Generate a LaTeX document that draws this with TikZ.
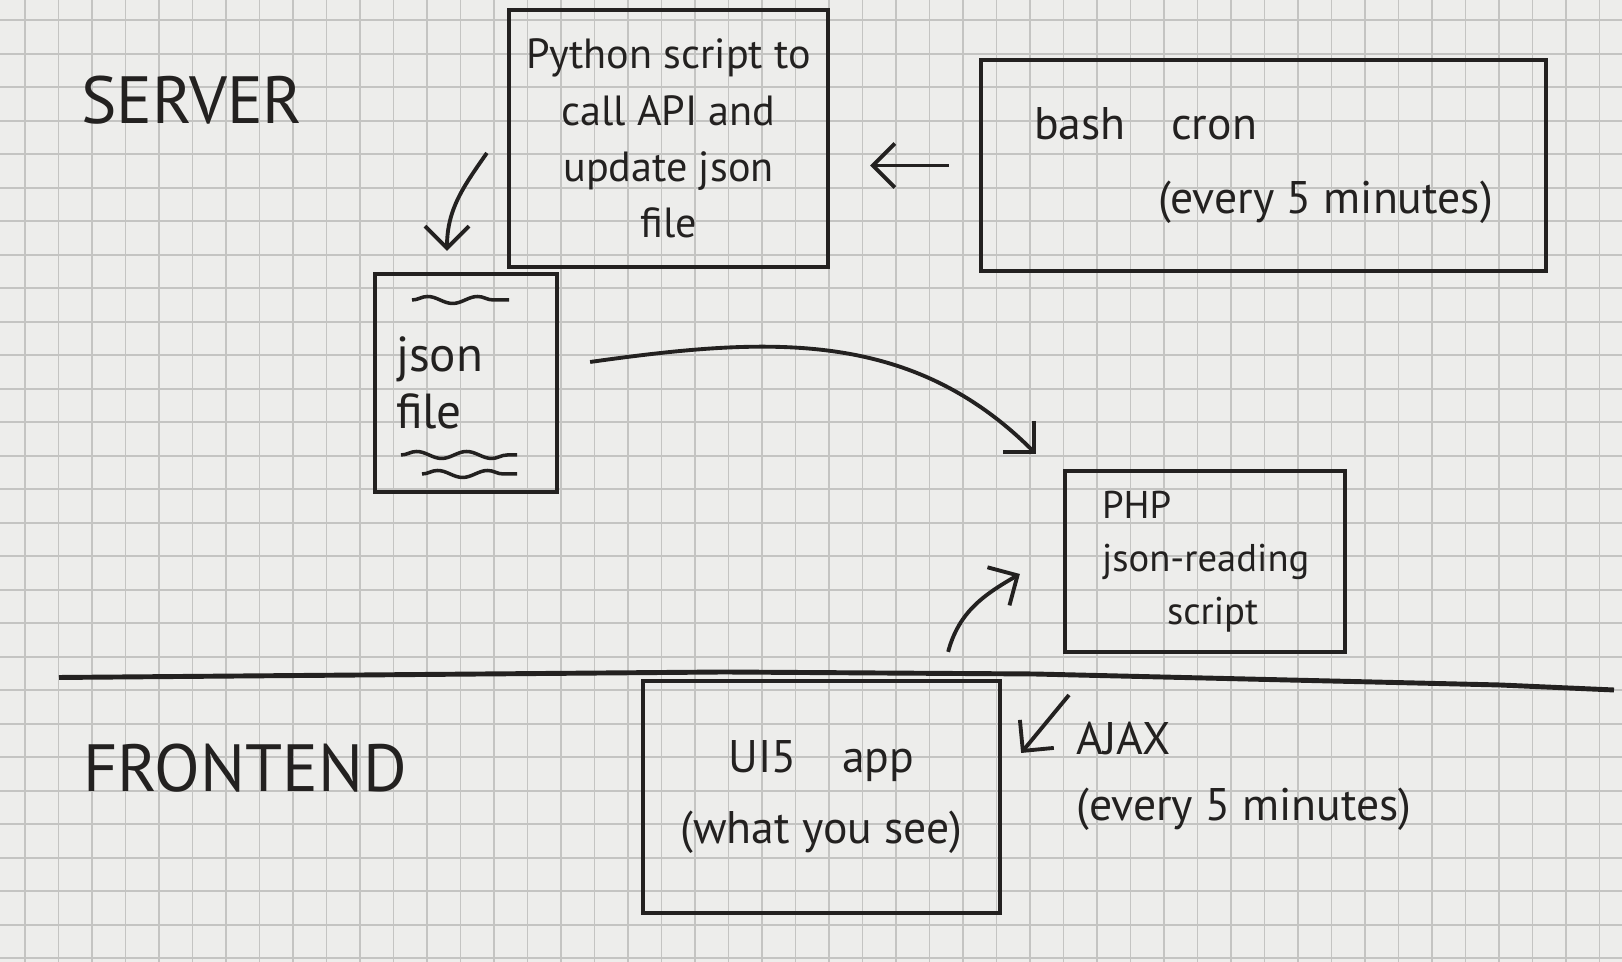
\documentclass[tikz,border=0pt]{standalone}
\usepackage{fontspec}
\setmainfont{PT Sans}
\usetikzlibrary{arrows.meta, decorations.pathmorphing}
\definecolor{ink}{HTML}{232120}
\definecolor{paper}{HTML}{EDEDEB}
\definecolor{gridgrey}{HTML}{C4C4C2}

\begin{document}
\begin{tikzpicture}[
		box/.style = {draw = ink, line width = 1.2pt, inner sep = 0pt, text = ink, align = center},
		hand/.style = {text = ink, inner sep = 0pt, align = left},
		arrow/.style = {draw = ink, line width = 1.1pt, -{Straight Barb[length = 2.2mm, width = 4.4mm]}},
		wavy/.style = {draw = ink, line width = 1pt, decorate, decoration = {snake, amplitude = 0.35mm, segment length = 5mm}}
	]
	% grid paper
	\fill[paper] (0, 0) rectangle (16.22, 9.62);
	\begin{scope}
		\clip (0, 0) rectangle (16.22, 9.62);
		\draw[gridgrey, line width = 0.5pt, step = 0.335cm, shift = {(0.25, 0.037)}] (-1, -1) grid (17, 10);
	\end{scope}

	% side titles
	\node[hand, font = \fontsize{19}{19}\selectfont] (server) at (1.92, 8.62) {SERVER};
	\node[hand, font = \fontsize{19}{19}\selectfont] (frontend) at (2.45, 1.94) {FRONTEND};

	% server boxes
	\node[box, minimum width = 3.19cm, minimum height = 2.57cm, font = \fontsize{12}{16}\selectfont] (python) at (6.685, 8.235) {Python script to\\call API and\\update json\\file};
	\node[box, minimum width = 5.65cm, minimum height = 2.11cm, align = left, font = \fontsize{13}{17}\selectfont] (cron) at (12.635, 7.965) {bash\quad cron\\[4pt]\hspace*{1.24cm}(every 5 minutes)};
	\node[box, minimum width = 1.82cm, minimum height = 2.18cm, align = left, text width = 1.4cm, font = \fontsize{14}{16}\selectfont] (json) at (4.66, 5.79) {json\\file};
	\node[box, minimum width = 2.8cm, minimum height = 1.81cm, align = left, text width = 2.06cm, font = \fontsize{11}{15}\selectfont] (php) at (12.05, 4.005) {PHP\\\mbox{json-reading}\\\hspace*{0.65cm}script};

	% lines in the json file
	\draw[wavy] (4.12, 6.62) -- (5.09, 6.62);
	\draw[wavy] (4.01, 5.07) -- (5.17, 5.07);
	\draw[wavy] (4.22, 4.88) -- (5.17, 4.88);

	% server / frontend border
	\draw[ink, line width = 1.4pt] (0.59, 2.845) -- (7.24, 2.9) -- (10.34, 2.88) -- (15.0, 2.77) -- (16.14, 2.72);

	% frontend
	\node[box, minimum width = 3.57cm, minimum height = 2.32cm, font = \fontsize{13}{20}\selectfont] (ui5) at (8.215, 1.65) {UI5\quad app\\(what you see)};
	\node[hand, anchor = north west, font = \fontsize{13}{19}\selectfont] (ajax) at (10.76, 2.41) {AJAX\\(every 5 minutes)};

	% arrows
	\draw[arrow, shorten < = 3mm, shorten > = 4mm] (cron.west) -- (cron.west -| python.east);
	\draw[arrow] ([xshift = -2mm, yshift = -1.45mm]python.west) to[out = 235, in = 90] ([xshift = -1.9mm, yshift = 2.1mm]json.north);
	\draw[arrow] ([xshift = 3.1mm, yshift = 2.1mm]json.east) to[out = 8, in = 135] ([xshift = -2.7mm, yshift = 1.5mm]php.north west);
	\draw[arrow] ([xshift = -5.4mm, yshift = 2.7mm]ui5.north east) to[out = 75, in = 210] ([xshift = -4.3mm, yshift = -1.25mm]php.west);
	\draw[arrow] ([xshift = -0.7mm, yshift = 2.6mm]ajax.north west) -- ([xshift = 1.9mm, yshift = 4.4mm]ui5.east);
\end{tikzpicture}
\end{document}
